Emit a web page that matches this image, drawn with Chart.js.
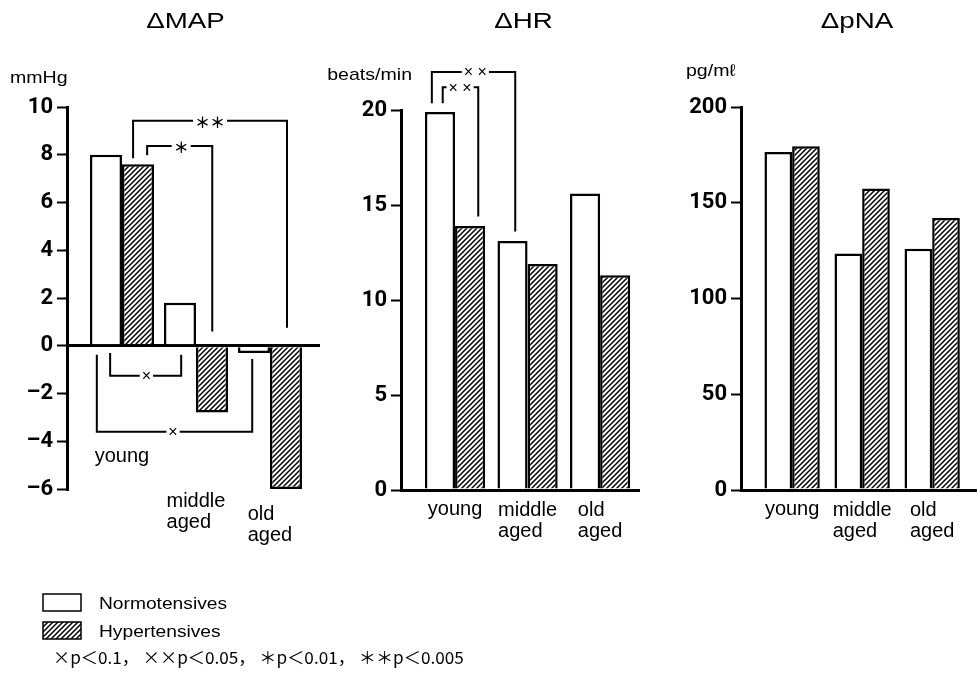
<!DOCTYPE html>
<html>
<head>
<meta charset="utf-8">
<script src="https://cdn.jsdelivr.net/npm/chart.js@4.4.1/dist/chart.umd.min.js"></script>
<style>
    html, body { margin: 0; padding: 0; background: #fff; }
    #wrap { position: relative; width: 977px; height: 676px; overflow: hidden; }
    #wrap canvas { position: absolute; left: 0; top: 0; }
</style>
</head>
<body>
<div id="wrap">
    <canvas id="mapChart" width="977" height="676"></canvas>
    <canvas id="hrChart" width="977" height="676"></canvas>
    <canvas id="pnaChart" width="977" height="676"></canvas>
</div>
<script>
// ---- data ----
const groupLines = [['young'], ['middle', 'aged'], ['old', 'aged']];
const seriesNames = ['Normotensives', 'Hypertensives'];

const mapNormo = [8.0, 1.8, -0.3];
const mapHyper = [7.6, -2.8, -6.0];
const mapTicks = [-6, -4, -2, 0, 2, 4, 6, 8, 10];

const hrNormo = [19.9, 13.1, 15.6];
const hrHyper = [13.9, 11.9, 11.3];
const hrTicks = [0, 5, 10, 15, 20];

const pnaNormo = [176.5, 123.5, 126];
const pnaHyper = [179.5, 157.5, 142];
const pnaTicks = [0, 50, 100, 150, 200];

const pNote = '×p＜0.1， ××p＜0.05， ＊p＜0.01， ＊＊p＜0.005';

// significance brackets, in axis units (x = group index, y = value)
const mapBrackets = [
    { label: '＊＊', star: true, x1: 0.15, y1: 7.85, x2: 2.23, y2: 0.75, top: 9.42, at: 1.19 },
    { label: '＊', star: true, x1: 0.34, y1: 7.98, x2: 1.22, y2: 0.6, top: 8.37, at: 0.8 },
    { label: '×', x1: -0.16, y1: -0.3, x2: 0.8, y2: -0.38, top: -1.26, at: 0.33 },
    { label: '×', x1: -0.34, y1: -0.38, x2: 1.76, y2: -0.55, top: -3.6, at: 0.69 }
];
const hrBrackets = [
    { label: '× ×', x1: -0.32, y1: 20.35, x2: 0.83, y2: 13.6, top: 22.0, at: 0.28 },
    { label: '× ×', x1: -0.17, y1: 20.35, x2: 0.32, y2: 14.4, top: 21.2, at: 0.07 }
];

const FONT_TEXT = '"Liberation Sans", Arial, sans-serif';
const FONT_CJK = '"Noto Sans CJK JP", sans-serif';

function hatchPattern() {
    const c = document.createElement('canvas');
    c.width = 5;
    c.height = 5;
    const g = c.getContext('2d');
    g.fillStyle = '#fff';
    g.fillRect(0, 0, 5, 5);
    g.strokeStyle = '#000';
    g.lineWidth = 1.5;
    g.beginPath();
    g.moveTo(-1, 6); g.lineTo(6, -1);
    g.moveTo(-1, 1); g.lineTo(1, -1);
    g.moveTo(4, 6); g.lineTo(6, 4);
    g.stroke();
    return g.createPattern(c, 'repeat');
}

// draws text squeezed/stretched horizontally by sx
function drawText(ctx, text, x, y, font, sx, align) {
    ctx.save();
    ctx.font = font;
    const w = ctx.measureText(text).width * sx;
    const left = align === 'center' ? x - w / 2 : align === 'right' ? x - w : x;
    ctx.translate(left, y);
    ctx.scale(sx, 1);
    ctx.textAlign = 'left';
    ctx.textBaseline = 'alphabetic';
    ctx.fillStyle = '#000';
    ctx.fillText(text, 0, 0);
    ctx.restore();
    return w;
}

const figureText = {
    id: 'figureText',
    afterDraw(chart, args, opts) {
        const ctx = chart.ctx;
        const area = chart.chartArea;
        const xs = chart.scales.x;
        const ys = chart.scales.y;

        // panel title and unit
        drawText(ctx, opts.title, (area.left + area.right) / 2 + opts.titleDx, 28,
            '22px ' + FONT_TEXT, 1.26, 'center');
        drawText(ctx, opts.unit.text, opts.unit.x, opts.unit.y, '17px ' + FONT_TEXT, 1.15, opts.unit.align);

        // group labels, lines left aligned inside a centred block
        ctx.save();
        ctx.font = '20px ' + FONT_TEXT;
        groupLines.forEach((lines, i) => {
            const cx = xs.getPixelForValue(i);
            const bw = Math.max(...lines.map(t => ctx.measureText(t).width));
            lines.forEach((t, k) => {
                drawText(ctx, t, cx - bw / 2, opts.labelY[i] + k * 21, '20px ' + FONT_TEXT, 1, 'left');
            });
        });
        ctx.restore();

        // brackets
        (opts.brackets || []).forEach(b => {
            const x1 = xs.getPixelForValue(b.x1);
            const x2 = xs.getPixelForValue(b.x2);
            const y1 = ys.getPixelForValue(b.y1);
            const y2 = ys.getPixelForValue(b.y2);
            const yt = ys.getPixelForValue(b.top);
            const xl = xs.getPixelForValue(b.at);
            const font = b.star ? 'bold 15px ' + FONT_CJK : '16px ' + FONT_TEXT;
            ctx.save();
            ctx.font = font;
            const lw = ctx.measureText(b.label).width;
            ctx.strokeStyle = '#000';
            ctx.lineWidth = 2;
            ctx.beginPath();
            ctx.moveTo(x1, y1);
            ctx.lineTo(x1, yt);
            ctx.lineTo(Math.max(x1, xl - lw / 2 - 2), yt);
            ctx.moveTo(Math.min(x2, xl + lw / 2 + 2), yt);
            ctx.lineTo(x2, yt);
            ctx.lineTo(x2, y2);
            ctx.stroke();
            ctx.fillStyle = '#000';
            ctx.textAlign = 'center';
            ctx.textBaseline = 'middle';
            ctx.fillText(b.label, xl, yt + 1);
            ctx.restore();
        });

        // legend and significance note
        if (opts.legend) {
            const lg = opts.legend;
            ctx.save();
            ctx.lineWidth = 1.5;
            ctx.strokeStyle = '#000';
            seriesNames.forEach((name, i) => {
                const by = lg.y + i * 28;
                ctx.fillStyle = i === 0 ? '#fff' : chart.data.datasets[1].backgroundColor;
                ctx.fillRect(lg.x, by, 38, 17);
                ctx.strokeRect(lg.x, by, 38, 17);
                drawText(ctx, name, lg.x + 56, by + 15, '16px ' + FONT_TEXT, 1.2, 'left');
            });
            ctx.restore();
            drawText(ctx, pNote, lg.x + 10, lg.y + 70, '17px ' + FONT_CJK, 1.01, 'left');
        }
    }
};

function makePanel(id, cfg) {
    const ctx = document.getElementById(id).getContext('2d');
    const hatch = hatchPattern();
    return new Chart(ctx, {
        type: 'bar',
        data: {
            datasets: [
                {
                    label: seriesNames[0],
                    data: cfg.normo.map((v, i) => ({ x: i, y: v })),
                    backgroundColor: '#fff',
                    borderColor: '#000',
                    borderWidth: 2.5,
                    categoryPercentage: cfg.catPct,
                    barPercentage: 1
                },
                {
                    label: seriesNames[1],
                    data: cfg.hyper.map((v, i) => ({ x: i, y: v })),
                    backgroundColor: hatch,
                    borderColor: '#000',
                    borderWidth: 2.5,
                    categoryPercentage: cfg.catPct,
                    barPercentage: 1
                }
            ]
        },
        options: {
            responsive: false,
            animation: false,
            devicePixelRatio: 1,
            events: [],
            layout: { padding: cfg.pad },
            scales: {
                x: {
                    type: 'linear',
                    display: false,
                    offset: false,
                    min: cfg.xMin,
                    max: cfg.xMax,
                    ticks: { stepSize: 1, includeBounds: false }
                },
                y: {
                    min: cfg.ticks[0],
                    max: cfg.ticks[cfg.ticks.length - 1],
                    afterBuildTicks: s => { s.ticks = cfg.ticks.map(v => ({ value: v })); },
                    afterFit: s => { s.width = 60; },
                    border: { display: true, color: '#000', width: 3 },
                    grid: {
                        drawOnChartArea: true,
                        color: c => (c.tick && c.tick.value === 0 ? '#000' : 'rgba(0,0,0,0)'),
                        lineWidth: 3,
                        drawTicks: true,
                        tickLength: 10,
                        tickColor: '#000',
                        tickWidth: 2
                    },
                    ticks: {
                        color: '#000',
                        padding: 4,
                        font: { family: 'Roboto', size: 22, weight: 'bold' },
                        callback: v => (v < 0 ? '\u2013' + Math.abs(v) : String(v))
                    }
                }
            },
            plugins: {
                legend: { display: false },
                tooltip: { enabled: false },
                figureText: {
                    title: cfg.title,
                    titleDx: cfg.titleDx,
                    unit: cfg.unit,
                    labelY: cfg.labelY,
                    brackets: cfg.brackets,
                    legend: cfg.legend
                }
            }
        },
        plugins: [figureText]
    });
}

makePanel('mapChart', {
    title: '\u0394MAP', titleDx: -8,
    unit: { text: 'mmHg', x: 10, y: 83, align: 'left' },
    normo: mapNormo, hyper: mapHyper, ticks: mapTicks,
    xMin: -0.743, xMax: 2.676, catPct: 0.865,
    pad: { left: 7, right: 657, top: 107, bottom: 187 },
    labelY: [462, 507, 520],
    brackets: mapBrackets,
    legend: { x: 43, y: 594 }
});

makePanel('hrChart', {
    title: '\u0394HR', titleDx: 3,
    unit: { text: 'beats/min', x: 412, y: 80, align: 'right' },
    normo: hrNormo, hyper: hrHyper, ticks: hrTicks,
    xMin: -0.745, xMax: 2.55, catPct: 0.83,
    pad: { left: 341, right: 337, top: 110, bottom: 186 },
    labelY: [515, 516, 516],
    brackets: hrBrackets
});

makePanel('pnaChart', {
    title: '\u0394pNA', titleDx: -2,
    unit: { text: 'pg/m\u2113', x: 686, y: 76, align: 'left' },
    normo: pnaNormo, hyper: pnaHyper, ticks: pnaTicks,
    xMin: -0.73, xMax: 2.64, catPct: 0.79,
    pad: { left: 681, right: 0, top: 107, bottom: 186 },
    labelY: [515, 516, 516],
    brackets: []
});
</script>
</body>
</html>
